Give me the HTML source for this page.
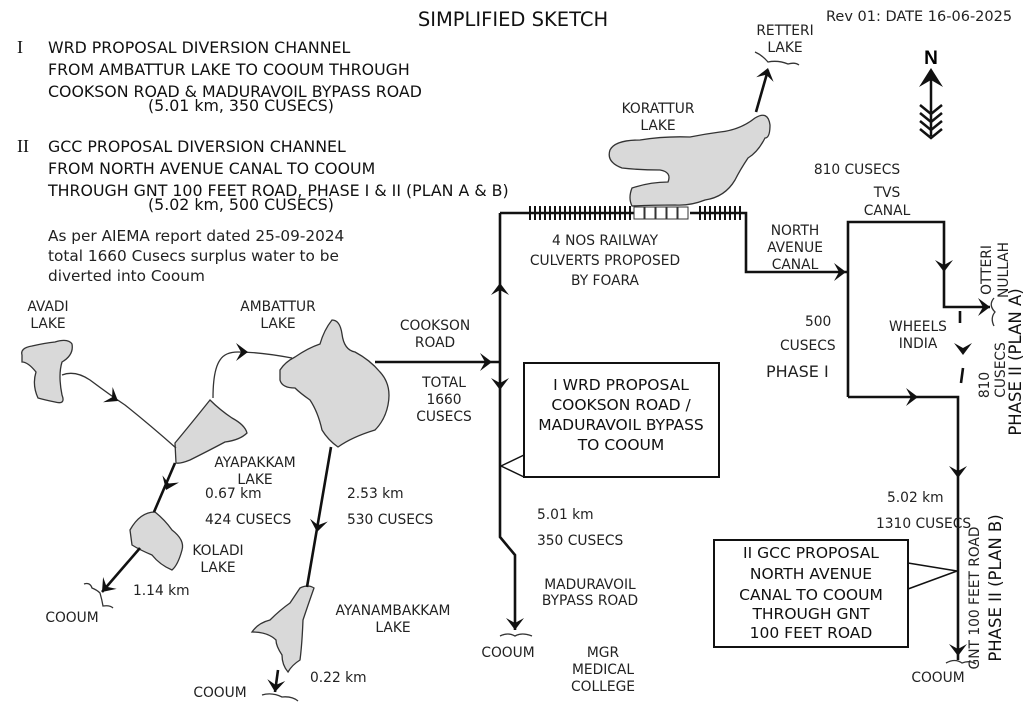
<!DOCTYPE html>
<html><head><meta charset="utf-8"><style>
html,body{margin:0;padding:0;background:#fff;}
svg{display:block;font-family:"DejaVu Sans","Liberation Sans",sans-serif;}
.t{font-size:13.8px;fill:#222;}
.h{font-family:"DejaVu Sans",sans-serif;font-size:15.8px;fill:#111;}
.lake{fill:#d9d9d9;stroke:#333;stroke-width:1.3;}
.ln{stroke:#111;stroke-width:2.6;fill:none;}
.th{stroke:#333;stroke-width:1.3;fill:none;}
</style></head><body>
<svg width="1024" height="724" viewBox="0 0 1024 724">
<defs><path id="ah" d="M-12,-9 L0,0 L-12,9 L-7,0Z" fill="#111"/></defs>
<rect width="1024" height="724" fill="#fff"/>
<text x="513" y="26" text-anchor="middle" style="font-family:'DejaVu Sans',sans-serif;font-size:19.5px" fill="#111">SIMPLIFIED SKETCH</text>
<text x="826" y="21" class="t" style="font-size:14.5px">Rev 01: DATE 16-06-2025</text>

<g class="h">
<text x="17" y="53" style="font-family:'Liberation Serif',serif;font-size:18px">I</text>
<text x="48" y="53">WRD PROPOSAL DIVERSION CHANNEL</text>
<text x="48" y="75">FROM AMBATTUR LAKE TO COOUM THROUGH</text>
<text x="48" y="97">COOKSON ROAD &amp; MADURAVOIL BYPASS ROAD</text>
<text x="148" y="111">(5.01 km, 350 CUSECS)</text>
<text x="17" y="152" style="font-family:'Liberation Serif',serif;font-size:18px">II</text>
<text x="48" y="152">GCC PROPOSAL DIVERSION CHANNEL</text>
<text x="48" y="174">FROM NORTH AVENUE CANAL TO COOUM</text>
<text x="48" y="196">THROUGH GNT 100 FEET ROAD, PHASE I &amp; II (PLAN A &amp; B)</text>
<text x="148" y="210">(5.02 km, 500 CUSECS)</text>
</g>
<g class="t" style="font-size:15.3px">
<text x="48" y="241">As per AIEMA report dated 25-09-2024</text>
<text x="48" y="261">total 1660 Cusecs surplus water to be</text>
<text x="48" y="281">diverted into Cooum</text>
</g>

<!-- lakes -->
<path class="lake" d="M22,355 Q20,348 32,346 Q45,343 55,342 Q68,338 72,344 Q74,355 62,362 Q58,375 62,395 Q66,405 55,402 Q45,400 38,398 Q32,385 36,372 Q28,362 22,362Z"/>
<path class="lake" d="M175,443 Q190,425 210,400 Q220,410 232,418 Q245,425 247,433 Q240,440 225,442 Q210,450 190,460 Q180,464 176,463Z"/>
<path class="lake" d="M130,530 Q140,512 155,512 Q165,520 172,530 Q185,540 182,550 Q178,565 172,570 Q160,565 152,555 Q140,550 132,545Z"/>
<path class="lake" d="M280,370 Q285,362 295,357 Q308,348 320,344 Q324,330 332,320 Q340,320 342,334 Q344,350 355,352 Q370,360 380,372 Q392,385 388,405 Q385,420 375,430 Q352,437 338,447 Q328,440 322,430 Q318,412 310,400 Q300,393 295,388 Q282,388 280,380Z"/>
<path class="lake" d="M300,588 Q308,584 314,588 Q308,605 303,620 Q302,645 300,660 Q292,665 288,672 Q282,665 282,655 Q276,646 276,640 Q268,632 252,632 Q258,623 270,620 Q280,610 290,603Z"/>
<path class="lake" d="M610,150 Q615,140 640,140 Q665,136 690,137 Q705,134 720,132 Q740,130 755,118 Q768,110 770,125 Q770,138 765,138 Q758,152 748,158 Q740,170 735,180 Q725,197 705,200 Q690,206 675,205 Q650,205 632,206 Q628,198 632,188 Q650,182 668,182 Q672,172 660,170 Q640,170 622,168 Q606,162 610,150Z"/>

<!-- thin channels -->
<path class="th" d="M62,375 Q75,370 90,380 Q110,395 125,405 Q150,425 176,448"/>
<use href="#ah" transform="translate(118,401) rotate(32)"/>
<path class="th" d="M213,398 Q213,370 220,360 Q225,352 238,352 Q260,352 292,358"/>
<use href="#ah" transform="translate(248,352) rotate(0)"/>

<!-- thick channels -->
<path class="ln" d="M175,463 L154,512"/><use href="#ah" transform="translate(166,490) rotate(113)"/>
<path class="ln" d="M140,548 L102,592"/><use href="#ah" transform="translate(102,592) rotate(131)"/>
<path class="th" d="M84,584 Q90,582 92,588 Q97,590 100,593 Q102,600 103,606 Q110,605 113,608"/>
<path class="ln" d="M331,447 L307,587"/><use href="#ah" transform="translate(317,532) rotate(99)"/>
<path class="ln" d="M278,670 L275,692"/><use href="#ah" transform="translate(275,692) rotate(96)"/>
<path class="th" d="M262,695 Q272,692 282,697 Q292,696 298,701"/>

<!-- main WRD line -->
<path class="ln" d="M375,362 L500,362"/><use href="#ah" transform="translate(492,362) rotate(0)"/>
<path class="ln" d="M500,213 L500,537 L515,555 L515,630"/>
<use href="#ah" transform="translate(500,283) rotate(-90)"/>
<use href="#ah" transform="translate(500,390) rotate(90)"/>
<use href="#ah" transform="translate(515,630) rotate(90)"/>
<path class="th" d="M500,636 Q508,632 515,636 Q522,632 532,636"/>
<path class="ln" d="M500,213 L746,213 L746,272 L848,272"/>
<use href="#ah" transform="translate(846,272) rotate(0)"/>
<g stroke="#111" stroke-width="2">
<path d="M530,206V220M535,206V220M540,206V220M545,206V220M550,206V220M555,206V220M560,206V220M565,206V220M570,206V220M575,206V220M580,206V220M585,206V220M590,206V220M595,206V220M600,206V220M605,206V220M610,206V220M615,206V220M620,206V220M625,206V220M630,206V220M700,206V220M705,206V220M710,206V220M715,206V220M720,206V220M725,206V220M730,206V220M735,206V220M740,206V220"/>
</g>
<rect x="634" y="208" width="56" height="10" fill="#fff"/>
<g fill="#fff" stroke="#333" stroke-width="1"><rect x="634" y="207" width="10" height="12"/><rect x="645" y="207" width="10" height="12"/><rect x="656" y="207" width="10" height="12"/><rect x="667" y="207" width="10" height="12"/><rect x="678" y="207" width="10" height="12"/></g>

<!-- GCC -->
<path class="ln" d="M848,397 L848,222 L944,222 L944,307 L990,307"/>
<use href="#ah" transform="translate(944,272) rotate(90)"/>
<use href="#ah" transform="translate(990,307) rotate(0)"/>
<path class="ln" d="M848,397 L958,397 L958,660"/>
<use href="#ah" transform="translate(918,397) rotate(0)"/>
<use href="#ah" transform="translate(958,478) rotate(90)"/>
<use href="#ah" transform="translate(958,656) rotate(90)"/>
<path class="ln" d="M960,311 L960,323 M963,368 L961,383"/>
<use href="#ah" transform="translate(963,355) rotate(90)"/>
<path class="th" d="M994,298 Q988,305 995,312 Q990,318 994,326"/>
<path class="th" d="M946,663 Q955,658 962,663 Q970,660 976,664"/>
<path class="ln" d="M756,112 L768,70"/><use href="#ah" transform="translate(768,68) rotate(-75)"/>
<path class="th" d="M755,52 Q762,55 768,62 Q778,60 788,64 Q795,62 799,65"/>

<!-- North arrow -->
<path d="M931,70 L931,136" stroke="#111" stroke-width="2.5"/>
<path d="M931,68 L919,87 L931,80 L943,87Z" fill="#111"/>
<path d="M920,105 L931,114 L942,105 M920,113 L931,122 L942,113 M920,121 L931,130 L942,121 M920,129 L931,138 L942,129" stroke="#111" stroke-width="2.5" fill="none"/>
<text x="931" y="64" text-anchor="middle" style="font-family:'Liberation Sans',sans-serif;font-weight:bold;font-size:19px">N</text>

<!-- boxes -->
<rect x="524" y="363" width="195" height="114" fill="#fff" stroke="#111" stroke-width="2"/>
<path d="M501,466 L524,455 M501,466 L524,477" stroke="#111" stroke-width="1.5"/>
<g class="h" style="font-size:15.5px" text-anchor="middle">
<text x="621" y="390">I  WRD PROPOSAL</text><text x="621" y="410">COOKSON ROAD /</text><text x="621" y="430">MADURAVOIL BYPASS</text><text x="621" y="450">TO COOUM</text>
</g>
<rect x="714" y="540" width="194" height="107" fill="#fff" stroke="#111" stroke-width="2"/>
<path d="M908,563 L957,571 M908,589 L957,571" stroke="#111" stroke-width="1.5"/>
<g class="h" style="font-size:15.5px" text-anchor="middle">
<text x="811" y="558">II  GCC PROPOSAL</text><text x="811" y="579">NORTH AVENUE</text><text x="811" y="600">CANAL TO COOUM</text><text x="811" y="619">THROUGH GNT</text><text x="811" y="638">100 FEET ROAD</text>
</g>

<!-- labels -->
<g class="t" text-anchor="middle">
<text x="48" y="311">AVADI</text><text x="48" y="328">LAKE</text>
<text x="278" y="311">AMBATTUR</text><text x="278" y="328">LAKE</text>
<text x="435" y="330">COOKSON</text><text x="435" y="347">ROAD</text>
<text x="444" y="387">TOTAL</text><text x="444" y="404">1660</text><text x="444" y="421">CUSECS</text>
<text x="255" y="467">AYAPAKKAM</text><text x="255" y="484">LAKE</text>
<text x="218" y="555">KOLADI</text><text x="218" y="572">LAKE</text>
<text x="393" y="615">AYANAMBAKKAM</text><text x="393" y="632">LAKE</text>
<text x="72" y="622">COOUM</text><text x="220" y="697">COOUM</text><text x="508" y="657">COOUM</text><text x="938" y="682">COOUM</text>
<text x="658" y="113">KORATTUR</text><text x="658" y="130">LAKE</text>
<text x="785" y="35">RETTERI</text><text x="785" y="52">LAKE</text>
<text x="605" y="245">4 NOS RAILWAY</text><text x="605" y="265">CULVERTS PROPOSED</text><text x="605" y="285">BY FOARA</text>
<text x="795" y="235">NORTH</text><text x="795" y="252">AVENUE</text><text x="795" y="269">CANAL</text>
<text x="887" y="197">TVS</text><text x="887" y="215">CANAL</text>
<text x="857" y="174">810 CUSECS</text>
<text x="918" y="331">WHEELS</text><text x="918" y="348">INDIA</text>
<text x="590" y="589">MADURAVOIL</text><text x="590" y="605">BYPASS ROAD</text>
<text x="603" y="657">MGR</text><text x="603" y="674">MEDICAL</text><text x="603" y="691">COLLEGE</text>
</g>
<g class="t">
<text x="805" y="326">500</text>
<text x="780" y="350">CUSECS</text>
<text x="766" y="377" style="font-size:16px">PHASE I</text>
<text x="205" y="498">0.67 km</text><text x="205" y="524">424 CUSECS</text>
<text x="347" y="498">2.53 km</text><text x="347" y="524">530 CUSECS</text>
<text x="133" y="595">1.14 km</text>
<text x="310" y="682">0.22 km</text>
<text x="537" y="519">5.01 km</text><text x="537" y="545">350 CUSECS</text>
<text x="887" y="502">5.02 km</text><text x="876" y="528">1310 CUSECS</text>
</g>
<g class="t">
<text transform="translate(991,270) rotate(-90)" text-anchor="middle">OTTERI</text>
<text transform="translate(1008,270) rotate(-90)" text-anchor="middle">NULLAH</text>
<text transform="translate(989,385) rotate(-90)" text-anchor="middle">810</text>
<text transform="translate(1005,370) rotate(-90)" text-anchor="middle">CUSECS</text>
<text transform="translate(979,598) rotate(-90)" text-anchor="middle">GNT 100 FEET ROAD</text>
</g>
<g style="font-family:'DejaVu Sans',sans-serif;font-size:16.5px" fill="#111">
<text transform="translate(1021,362) rotate(-90)" text-anchor="middle">PHASE II (PLAN A)</text>
<text transform="translate(1001,588) rotate(-90)" text-anchor="middle">PHASE II (PLAN B)</text>
</g>
</svg>
</body></html>
